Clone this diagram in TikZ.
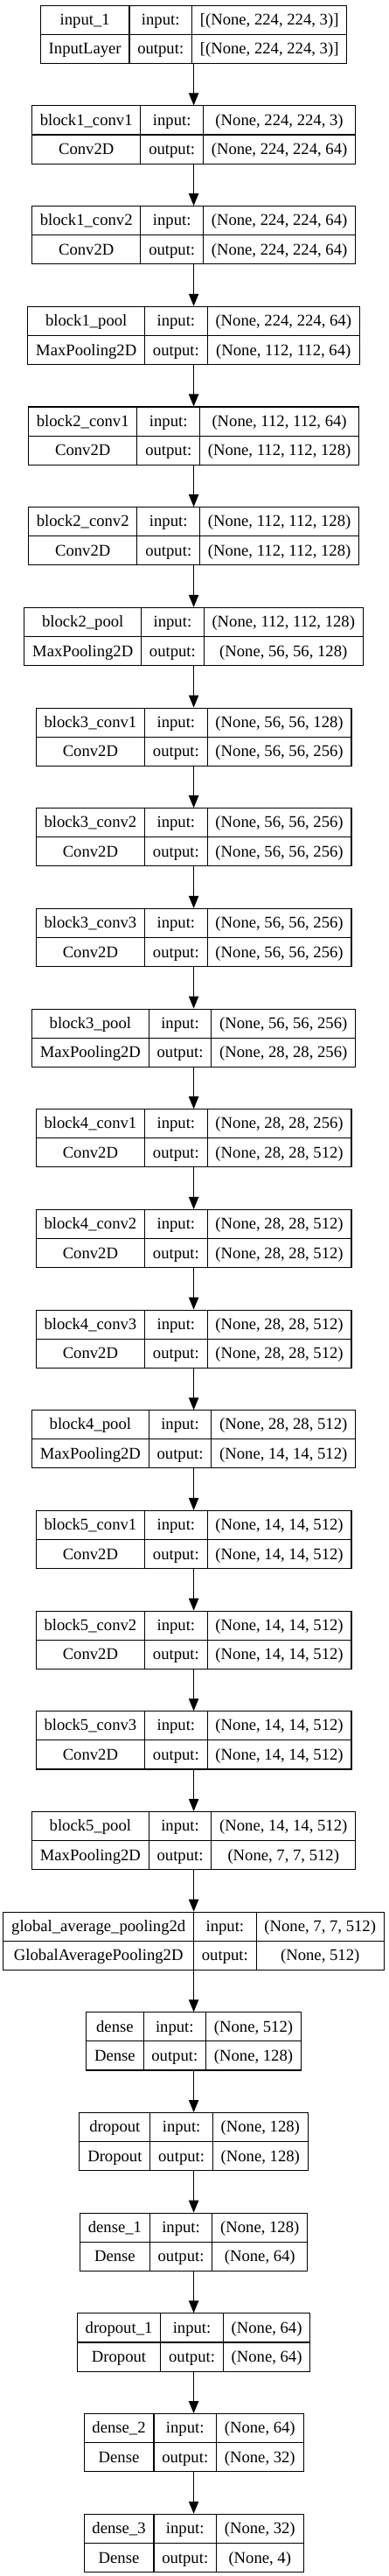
\documentclass[tikz,border=0pt]{standalone}
\usepackage{fontspec}
\setmainfont{Liberation Serif}
\usetikzlibrary{arrows.meta}

\setlength{\tabcolsep}{7pt}
\setlength{\arrayrulewidth}{0.8pt}
\newcommand{\cellstrut}{\rule[-7.8pt]{0pt}{24.4pt}}
\newcommand{\layerrows}[4]{%
  \begin{tabular}{c|c|c}
    \cellstrut #1 & input:  & #3\\ \hline
    \cellstrut #2 & output: & #4
  \end{tabular}}

\begin{document}
\begin{tikzpicture}[
  every node/.style={font=\fontsize{14pt}{17pt}\selectfont},
  layer/.style={draw, line width=0.8pt, inner sep=0pt, anchor=north},
  arr/.style  ={-{Triangle[length=10.5pt, width=8.5pt]}, line width=0.75pt},
]
\useasboundingbox (0,0) rectangle (333pt,-2208pt);

%% ---- y layout (box tops, in pt) ----
%%  -4.3 - 86.01*k   for k = 0 .. 25, all boxes centred on x = 166.2pt

%% ---- Input ----
\node[layer] (input1) at (166.2pt,-4.3pt)
  {\layerrows{input\_1}{InputLayer}{[(None, 224, 224, 3)]}{[(None, 224, 224, 3)]}};

%% ---- Block 1 ----
\node[layer] (b1c1) at (166.2pt,-90.31pt)
  {\layerrows{block1\_conv1}{Conv2D}{(None, 224, 224, 3)}{(None, 224, 224, 64)}};
\draw[arr] (input1) -- (b1c1);
\node[layer] (b1c2) at (166.2pt,-176.32pt)
  {\layerrows{block1\_conv2}{Conv2D}{(None, 224, 224, 64)}{(None, 224, 224, 64)}};
\draw[arr] (b1c1) -- (b1c2);
\node[layer] (b1pool) at (166.2pt,-262.33pt)
  {\layerrows{block1\_pool}{MaxPooling2D}{(None, 224, 224, 64)}{(None, 112, 112, 64)}};
\draw[arr] (b1c2) -- (b1pool);

%% ---- Block 2 ----
\node[layer] (b2c1) at (166.2pt,-348.34pt)
  {\layerrows{block2\_conv1}{Conv2D}{(None, 112, 112, 64)}{(None, 112, 112, 128)}};
\draw[arr] (b1pool) -- (b2c1);
\node[layer] (b2c2) at (166.2pt,-434.35pt)
  {\layerrows{block2\_conv2}{Conv2D}{(None, 112, 112, 128)}{(None, 112, 112, 128)}};
\draw[arr] (b2c1) -- (b2c2);
\node[layer] (b2pool) at (166.2pt,-520.36pt)
  {\layerrows{block2\_pool}{MaxPooling2D}{(None, 112, 112, 128)}{(None, 56, 56, 128)}};
\draw[arr] (b2c2) -- (b2pool);

%% ---- Block 3 ----
\node[layer] (b3c1) at (166.2pt,-606.37pt)
  {\layerrows{block3\_conv1}{Conv2D}{(None, 56, 56, 128)}{(None, 56, 56, 256)}};
\draw[arr] (b2pool) -- (b3c1);
\node[layer] (b3c2) at (166.2pt,-692.38pt)
  {\layerrows{block3\_conv2}{Conv2D}{(None, 56, 56, 256)}{(None, 56, 56, 256)}};
\draw[arr] (b3c1) -- (b3c2);
\node[layer] (b3c3) at (166.2pt,-778.39pt)
  {\layerrows{block3\_conv3}{Conv2D}{(None, 56, 56, 256)}{(None, 56, 56, 256)}};
\draw[arr] (b3c2) -- (b3c3);
\node[layer] (b3pool) at (166.2pt,-864.4pt)
  {\layerrows{block3\_pool}{MaxPooling2D}{(None, 56, 56, 256)}{(None, 28, 28, 256)}};
\draw[arr] (b3c3) -- (b3pool);

%% ---- Block 4 ----
\node[layer] (b4c1) at (166.2pt,-950.41pt)
  {\layerrows{block4\_conv1}{Conv2D}{(None, 28, 28, 256)}{(None, 28, 28, 512)}};
\draw[arr] (b3pool) -- (b4c1);
\node[layer] (b4c2) at (166.2pt,-1036.42pt)
  {\layerrows{block4\_conv2}{Conv2D}{(None, 28, 28, 512)}{(None, 28, 28, 512)}};
\draw[arr] (b4c1) -- (b4c2);
\node[layer] (b4c3) at (166.2pt,-1122.43pt)
  {\layerrows{block4\_conv3}{Conv2D}{(None, 28, 28, 512)}{(None, 28, 28, 512)}};
\draw[arr] (b4c2) -- (b4c3);
\node[layer] (b4pool) at (166.2pt,-1208.44pt)
  {\layerrows{block4\_pool}{MaxPooling2D}{(None, 28, 28, 512)}{(None, 14, 14, 512)}};
\draw[arr] (b4c3) -- (b4pool);

%% ---- Block 5 ----
\node[layer] (b5c1) at (166.2pt,-1294.45pt)
  {\layerrows{block5\_conv1}{Conv2D}{(None, 14, 14, 512)}{(None, 14, 14, 512)}};
\draw[arr] (b4pool) -- (b5c1);
\node[layer] (b5c2) at (166.2pt,-1380.46pt)
  {\layerrows{block5\_conv2}{Conv2D}{(None, 14, 14, 512)}{(None, 14, 14, 512)}};
\draw[arr] (b5c1) -- (b5c2);
\node[layer] (b5c3) at (166.2pt,-1466.47pt)
  {\layerrows{block5\_conv3}{Conv2D}{(None, 14, 14, 512)}{(None, 14, 14, 512)}};
\draw[arr] (b5c2) -- (b5c3);
\node[layer] (b5pool) at (166.2pt,-1552.48pt)
  {\layerrows{block5\_pool}{MaxPooling2D}{(None, 14, 14, 512)}{(None, 7, 7, 512)}};
\draw[arr] (b5c3) -- (b5pool);

%% ---- Head ----
\node[layer] (gap) at (166.2pt,-1638.49pt)
  {\layerrows{global\_average\_pooling2d}{GlobalAveragePooling2D}{(None, 7, 7, 512)}{(None, 512)}};
\draw[arr] (b5pool) -- (gap);
\node[layer] (dense) at (166.2pt,-1724.5pt)
  {\layerrows{dense}{Dense}{(None, 512)}{(None, 128)}};
\draw[arr] (gap) -- (dense);
\node[layer] (drop) at (166.2pt,-1810.51pt)
  {\layerrows{dropout}{Dropout}{(None, 128)}{(None, 128)}};
\draw[arr] (dense) -- (drop);
\node[layer] (dense1) at (166.2pt,-1896.52pt)
  {\layerrows{dense\_1}{Dense}{(None, 128)}{(None, 64)}};
\draw[arr] (drop) -- (dense1);
\node[layer] (drop1) at (166.2pt,-1982.53pt)
  {\layerrows{dropout\_1}{Dropout}{(None, 64)}{(None, 64)}};
\draw[arr] (dense1) -- (drop1);
\node[layer] (dense2) at (166.2pt,-2068.54pt)
  {\layerrows{dense\_2}{Dense}{(None, 64)}{(None, 32)}};
\draw[arr] (drop1) -- (dense2);
\node[layer] (dense3) at (166.2pt,-2154.55pt)
  {\layerrows{dense\_3}{Dense}{(None, 32)}{(None, 4)}};
\draw[arr] (dense2) -- (dense3);

\end{tikzpicture}
\end{document}
